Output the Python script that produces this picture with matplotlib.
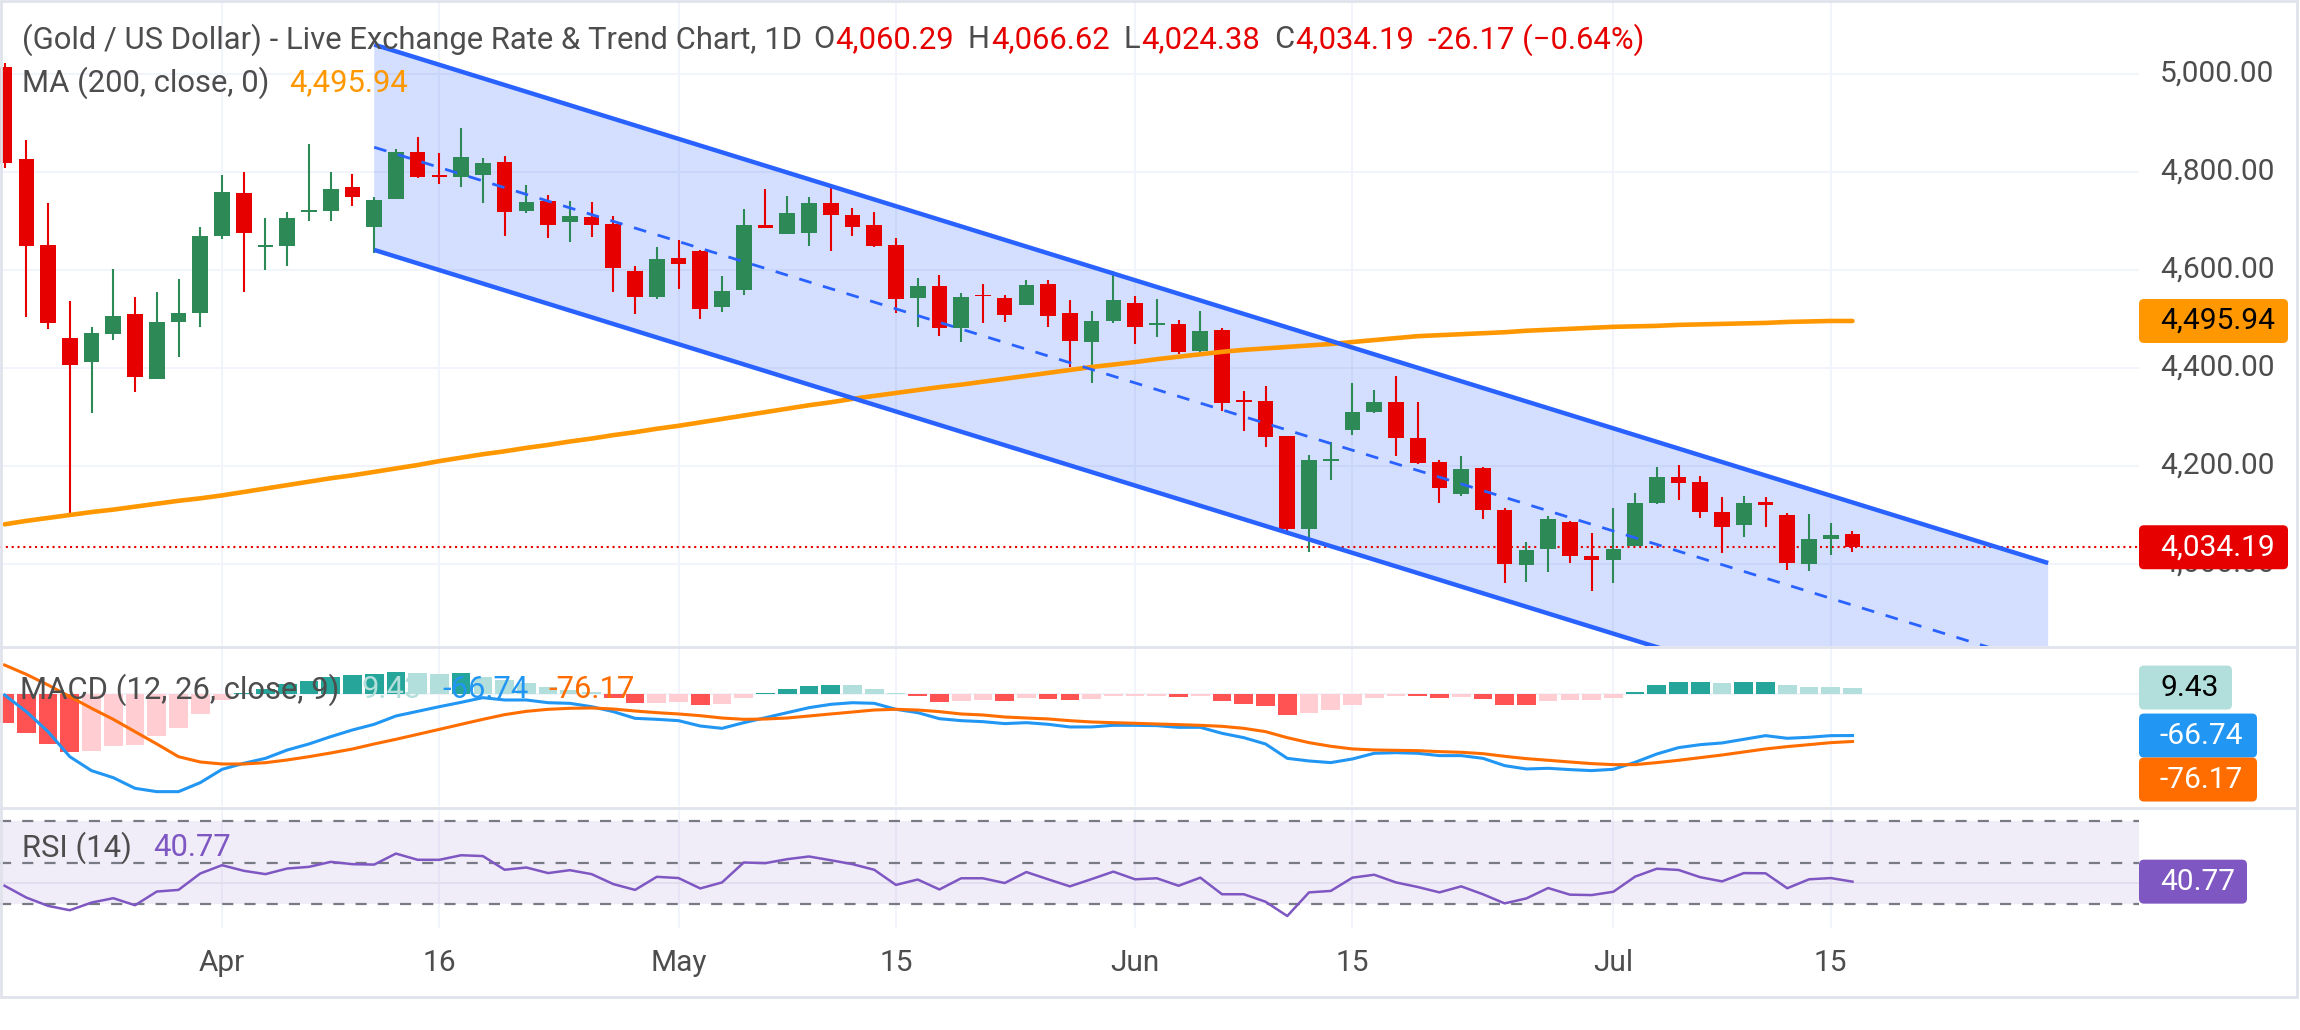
import matplotlib
matplotlib.use("Agg")
import matplotlib.pyplot as plt
from matplotlib.patches import Rectangle, FancyBboxPatch, Polygon
import numpy as np
import pandas as pd

plt.rcParams['font.family'] = ['Roboto', 'DejaVu Sans']

# ---------------- data ----------------
start_date, end_date = "2026-03-18", "2026-07-16"
market_holidays = ["2026-04-03"]

opens = [5015, 4826, 4651, 4462, 4413, 4470, 4511, 4377, 4493, 4513,
         4670, 4757, 4647, 4649, 4718, 4721, 4769, 4687, 4744, 4840,
         4792, 4790, 4793, 4821, 4721, 4740, 4698, 4709, 4694, 4598,
         4545, 4624, 4639, 4524, 4560, 4692, 4674, 4676, 4737, 4713,
         4692, 4651, 4542, 4567, 4481, 4548, 4543, 4529, 4572, 4513,
         4454, 4495, 4533, 4487, 4490, 4435, 4478, 4332, 4333, 4262,
         4071, 4211, 4273, 4310, 4331, 4258, 4209, 4142, 4195, 4111,
         3997, 4031, 4085, 4017, 4008, 4036, 4124, 4177, 4167, 4107,
         4079, 4126, 4101, 4000, 4052, 4060.29]
highs = [5022, 4866, 4737, 4537, 4484, 4602, 4545, 4555, 4582, 4687,
         4793, 4799, 4706, 4718, 4857, 4801, 4795, 4750, 4846, 4871,
         4839, 4889, 4828, 4833, 4773, 4754, 4740, 4739, 4710, 4609,
         4647, 4661, 4641, 4588, 4724, 4765, 4751, 4748, 4774, 4727,
         4718, 4665, 4584, 4590, 4553, 4572, 4548, 4580, 4580, 4539,
         4516, 4597, 4547, 4541, 4497, 4516, 4482, 4353, 4364, 4262,
         4222, 4248, 4370, 4356, 4383, 4331, 4213, 4221, 4198, 4115,
         4044, 4097, 4087, 4064, 4115, 4144, 4197, 4203, 4180, 4136,
         4138, 4136, 4105, 4103, 4083, 4066.62]
lows = [4809, 4504, 4479, 4100, 4308, 4458, 4351, 4377, 4422, 4484,
        4664, 4555, 4600, 4608, 4700, 4700, 4731, 4635, 4744, 4788,
        4775, 4769, 4737, 4670, 4716, 4666, 4657, 4668, 4555, 4511,
        4540, 4562, 4501, 4515, 4548, 4685, 4674, 4649, 4639, 4670,
        4646, 4513, 4483, 4466, 4453, 4491, 4493, 4529, 4484, 4402,
        4369, 4491, 4448, 4464, 4428, 4425, 4313, 4271, 4239, 4068,
        4024, 4171, 4263, 4308, 4220, 4204, 4124, 4139, 4092, 3962,
        3964, 3984, 4002, 3944, 3961, 4036, 4122, 4130, 4094, 4023,
        4055, 4076, 3988, 3985, 4018, 4024.38]
closes = [4819, 4649, 4491, 4407, 4471, 4506, 4381, 4494, 4513, 4669,
          4759, 4676, 4651, 4706, 4721, 4765, 4748, 4743, 4840, 4790,
          4789, 4830, 4819, 4719, 4738, 4692, 4710, 4692, 4605, 4544,
          4623, 4613, 4521, 4557, 4692, 4685, 4716, 4737, 4713, 4687,
          4649, 4540, 4567, 4481, 4545, 4546, 4509, 4569, 4507, 4456,
          4496, 4539, 4484, 4489, 4433, 4476, 4328, 4330, 4260, 4071,
          4213, 4215, 4311, 4331, 4257, 4207, 4155, 4193, 4110, 4000,
          4028, 4091, 4017, 4008, 4031, 4124, 4177, 4165, 4106, 4076,
          4124, 4121, 4002, 4052, 4060, 4034.19]
ma200 = [4081, 4088, 4094, 4100, 4106, 4111, 4117, 4123, 4129, 4134,
         4140, 4147, 4154, 4161, 4168, 4175, 4181, 4188, 4195, 4202,
         4210, 4217, 4224, 4230, 4237, 4243, 4250, 4256, 4263, 4269,
         4276, 4282, 4289, 4296, 4303, 4310, 4317, 4324, 4330, 4337,
         4343, 4349, 4355, 4361, 4366, 4372, 4378, 4384, 4390, 4396,
         4402, 4407, 4412, 4418, 4423, 4428, 4433, 4437, 4440, 4443,
         4446, 4449, 4453, 4457, 4461, 4465, 4467, 4469, 4471, 4473,
         4476, 4478, 4480, 4482, 4484, 4485, 4486, 4488, 4489, 4490,
         4491, 4492, 4494, 4495, 4496, 4495.94]
macd_line = [-2.4, -28.8, -60.6, -100.3, -122.5, -133.6, -150.5, -155.8, -155.8, -141.5,
             -120.4, -110.8, -102.9, -89.7, -80.1, -68.5, -57.9, -48.9, -35.7, -28.3,
             -20.9, -14.0, -6.6, -10.3, -10.3, -14.6, -15.6, -20.9, -28.8, -39.4,
             -41.0, -43.1, -51.6, -55.3, -46.3, -38.4, -30.4, -22.5, -17.2, -14.6,
             -15.6, -25.1, -30.4, -40.0, -43.1, -44.7, -47.8, -46.3, -48.9, -53.1,
             -53.1, -50.5, -50.5, -51.0, -53.7, -53.7, -63.2, -70.1, -80.1, -102.9,
             -107.1, -109.7, -103.9, -94.9, -93.9, -94.9, -98.6, -98.6, -102.9, -114.5,
             -119.8, -118.7, -120.8, -122.4, -120.3, -109.2, -96.0, -85.9, -81.2, -78.5,
             -72.7, -66.9, -71.1, -69.5, -66.9, -66.74]
signal_line = [45.2, 30.4, 13.5, -5.0, -23.5, -41.0, -60.6, -80.1, -100.3, -108.7,
               -111.9, -111.9, -109.8, -105.5, -100.3, -94.4, -88.1, -80.1, -72.7, -64.8,
               -56.9, -48.9, -41.0, -33.6, -28.3, -25.1, -23.5, -23.0, -24.6, -27.8,
               -30.4, -32.5, -35.2, -38.9, -41.0, -40.5, -38.9, -35.7, -32.5, -29.4,
               -26.2, -25.1, -26.2, -28.8, -32.5, -34.1, -37.3, -38.9, -40.4, -43.1,
               -45.2, -46.3, -47.3, -48.4, -49.4, -50.5, -52.1, -55.3, -60.5, -70.1,
               -78.0, -83.8, -88.0, -89.6, -90.2, -90.7, -92.3, -93.3, -95.5, -99.7,
               -103.4, -106.0, -108.7, -111.3, -112.9, -112.9, -109.7, -106.0, -101.8, -97.6,
               -92.8, -88.0, -84.3, -81.2, -78.0, -76.17]
macd_hist = [-46.6, -62.4, -80.4, -92.6, -91.5, -83.6, -82.0, -67.7, -55.0, -32.3,
             -10.6, 1.5, 7.0, 15.8, 20.2, 25.9, 29.0, 31.0, 33.5, 33.0,
             31.7, 32.0, 26.5, 21.0, 17.0, 10.6, 5.3, 2.6, -6.9, -14.8,
             -14.5, -14.0, -18.5, -15.9, -6.9, 1.0, 6.9, 12.2, 13.8, 13.5,
             7.9, 1.0, -4.2, -13.2, -12.2, -10.6, -12.2, -7.9, -8.2, -11.1,
             -9.5, -4.2, -4.1, -4.0, -5.8, -4.2, -12.2, -15.9, -20.1, -34.4,
             -31.7, -26.5, -17.5, -6.9, -4.2, -4.6, -7.9, -5.8, -9.5, -17.5,
             -18.0, -12.2, -11.1, -10.6, -7.9, 2.6, 12.7, 18.5, 18.8, 16.9,
             18.5, 18.6, 12.7, 11.1, 11.0, 9.43]
rsi14 = [38.8, 33.1, 29.1, 27.0, 30.7, 32.8, 29.4, 36.0, 36.8, 44.7,
         48.7, 46.0, 44.4, 47.1, 47.9, 50.3, 49.2, 49.0, 54.3, 51.3,
         51.3, 53.5, 53.1, 46.5, 47.6, 44.9, 46.3, 44.4, 39.6, 36.8,
         43.1, 42.5, 37.5, 40.4, 50.0, 49.7, 51.6, 52.9, 51.1, 49.2,
         46.5, 39.2, 41.8, 37.0, 42.4, 42.4, 40.1, 45.4, 41.9, 38.5,
         42.0, 45.6, 41.9, 42.4, 38.8, 42.7, 34.7, 34.7, 31.1, 24.2,
         35.6, 36.3, 42.7, 44.1, 40.4, 38.2, 35.6, 38.5, 34.7, 30.3,
         32.7, 37.7, 34.5, 34.3, 35.9, 43.2, 47.0, 46.4, 42.9, 40.9,
         44.9, 44.8, 37.6, 41.9, 42.5, 40.77]

tick_dates = ["2026-04-01", "2026-04-16", "2026-05-01", "2026-05-15",
              "2026-06-01", "2026-06-15", "2026-07-01", "2026-07-15"]
tick_labels = ["Apr", "16", "May", "15", "Jun", "15", "Jul", "15"]
price_ticks = [4000, 4200, 4400, 4600, 4800, 5000]
rsi_bands = [70, 50, 30]

channel_start = "2026-04-13"
channel_bars = 77
channel_upper = [5060, 4002]
channel_width = 419

header_title = "(Gold / US Dollar) - Live Exchange Rate & Trend Chart, 1D"
ohlc_labels = ["O", "H", "L", "C"]
change_text = "-26.17 (\u22120.64%)"
ma_title = "MA (200, close, 0)"
macd_title = "MACD (12, 26, close, 9)"
rsi_title = "RSI (14)"

# ---------------- style ----------------
RED = '#e60000'
GREEN = '#2d8a57'
GRAY = '#4d4d4d'
ORANGE = '#ff9800'
BLUE = '#2962ff'
MACD_BLUE = '#2196f3'
SIG_ORANGE = '#ff6d00'
PURPLE = '#7e57c2'
GRID = '#f0f3fa'
BORDER = '#e0e3eb'

dates = pd.bdate_range(start_date, end_date)
dates = dates[~dates.isin(pd.to_datetime(market_holidays))]
n = len(dates)
assert n == len(opens) == len(closes) == len(rsi14) == len(macd_hist)
x = np.arange(n)
tick_idx = [dates.get_loc(pd.Timestamp(d)) for d in tick_dates]

W, H = 2300, 1030
PLOT_R = 2139
BAR_PX, X0_PX = 21.74, 4.6
xlim = (-X0_PX / BAR_PX, (PLOT_R - X0_PX) / BAR_PX)

fig = plt.figure(figsize=(W / 100, H / 100), dpi=100)
fig.patch.set_facecolor('white')


def add_pane(top, bottom, ylim):
    ax = fig.add_axes([0, 1 - bottom / H, PLOT_R / W, (bottom - top) / H])
    ax.set_xlim(*xlim)
    ax.set_ylim(*ylim)
    for s in ax.spines.values():
        s.set_visible(False)
    ax.set_xticks([])
    ax.set_yticks([])
    ax.patch.set_alpha(0)
    for t in tick_idx:
        ax.axvline(t, color=GRID, lw=1.3, zorder=0)
    return ax


# main pane: price scale 0.49 px per unit, 4000 at y=564
def price_at(ypx):
    return 4000 + (564 - ypx) / 0.49


ax = add_pane(2, 646, (price_at(646), price_at(2)))
for p in price_ticks:
    ax.axhline(p, color=GRID, lw=1.3, zorder=0)

o, h, l, c = map(np.array, (opens, highs, lows, closes))
cols = np.where(c >= o, GREEN, RED)

# channel
ci0 = dates.get_loc(pd.Timestamp(channel_start))
ci1 = ci0 + channel_bars
u0, u1 = channel_upper
ax.add_patch(Polygon([(ci0, u0), (ci1, u1), (ci1, u1 - channel_width), (ci0, u0 - channel_width)],
                     closed=True, fc=BLUE, alpha=0.2, ec='none', zorder=1))

ax.axhline(closes[-1], color=RED, lw=1.5, ls=(0, (1, 1.8)), zorder=2)

ax.vlines(x, l, h, colors=cols, lw=1.5, zorder=3)
body_lo = np.minimum(o, c)
body_h = np.maximum(np.abs(c - o), 4.0)
ax.bar(x, body_h, bottom=body_lo, width=0.72, color=cols, lw=0, zorder=4)

ax.plot(x, ma200, color=ORANGE, lw=3.3, zorder=5, solid_capstyle='round')

ax.plot([ci0, ci1], [u0, u1], color=BLUE, lw=3.2, zorder=6, solid_capstyle='butt')
ax.plot([ci0, ci1], [u0 - channel_width, u1 - channel_width], color=BLUE, lw=3.2, zorder=6,
        solid_capstyle='butt')
ax.plot([ci0, ci1], [u0 - channel_width / 2, u1 - channel_width / 2], color=BLUE, lw=2.0,
        ls=(0, (4.6, 4.3)), zorder=6)

# MACD pane: 0 at y=693.5, 0.63 px per unit
axm = add_pane(648, 806, (-(806 - 693.5) / 0.63, -(648 - 693.5) / 0.63))
axm.axhline(0, color=GRID, lw=1.3, zorder=0)
hcols = []
for i, v in enumerate(macd_hist):
    prev = macd_hist[i - 1] if i > 0 else v
    if v >= 0:
        hcols.append('#26a69a' if prev < v else '#b2dfdb')
    else:
        hcols.append('#ffcdd2' if prev < v else '#ff5252')
axm.bar(x, macd_hist, width=0.86, color=hcols, lw=0, zorder=2)
axm.plot(x, macd_line, color=MACD_BLUE, lw=2.2, zorder=3)
axm.plot(x, signal_line, color=SIG_ORANGE, lw=2.2, zorder=3)

# RSI pane: 50 at y=862.5, 2.075 px per unit
axr = add_pane(809, 928, (50 - (928 - 862.5) / 2.075, 50 - (809 - 862.5) / 2.075))
axr.axhspan(30, 70, color=PURPLE, alpha=0.1, lw=0, zorder=0)
axr.axhline(40, color='#e2ddef', lw=1.3, zorder=0.5)
for lvl in rsi_bands:
    axr.axhline(lvl, color='#787b86', lw=1.6, ls=(0, (5.0, 5.0)), zorder=1)
axr.plot(x, rsi14, color=PURPLE, lw=1.8, zorder=3)

# ---------------- overlay in pixel coordinates ----------------
ov = fig.add_axes([0, 0, 1, 1], zorder=10)
ov.set_xlim(0, W)
ov.set_ylim(H, 0)
ov.axis('off')

ov.add_patch(Rectangle((1, 1), 2296, 996, fill=False, ec=BORDER, lw=2))
ov.plot([0, 2297], [647, 647], color=BORDER, lw=2)
ov.plot([0, 2297], [807.5, 807.5], color=BORDER, lw=2)

renderer = fig.canvas.get_renderer()


def width_of(s, size):
    t = ov.text(0, 0, s, fontsize=size)
    w = t.get_window_extent(renderer).width
    t.remove()
    return w


leg_size = 10 * 778 / width_of(header_title, 10)
lab_size = 10 * 114 / width_of("5,000.00", 10)


def segments(x0, y0, segs, size):
    xx = x0
    for s, colr, gap in segs:
        t = ov.text(xx, y0, s, fontsize=size, color=colr, va='center', ha='left')
        xx += t.get_window_extent(renderer).width + gap


def fmt(v):
    return f"{v:,.2f}"


line1 = [(header_title, GRAY, 11)]
for lab, val in zip(ohlc_labels, [opens[-1], highs[-1], lows[-1], closes[-1]]):
    line1 += [(lab, GRAY, 1), (fmt(val), RED, 14)]
line1 += [(change_text, RED, 0)]
segments(22, 40, line1, leg_size)
segments(22, 83, [(ma_title, GRAY, 20), (fmt(ma200[-1]), ORANGE, 0)], leg_size)
segments(20, 690, [(macd_title, GRAY, 22), (f"{macd_hist[-1]:.2f}", '#b2dfdb', 21),
                   (f"{macd_line[-1]:.2f}", MACD_BLUE, 19), (f"{signal_line[-1]:.2f}", SIG_ORANGE, 0)],
         leg_size)
segments(22, 848, [(rsi_title, GRAY, 21), (f"{rsi14[-1]:.2f}", PURPLE, 0)], leg_size)


def py(a, v):
    return H - a.transData.transform((0, v))[1]


for p in price_ticks:
    ov.text(2160, py(ax, p), fmt(p), fontsize=lab_size, color=GRAY, va='center', ha='left', zorder=1)

for t, lab in zip(tick_idx, tick_labels):
    xp = ax.transData.transform((t, 0))[0]
    ov.text(xp, 963, lab, fontsize=lab_size, color=GRAY, va='center', ha='center')


def label_box(yc, text, fc, tc, right):
    ov.add_patch(FancyBboxPatch((2139, yc - 22), right - 2139, 44,
                                boxstyle='round,pad=0,rounding_size=5', fc=fc, ec='none', zorder=3))
    ov.text(2160, yc, text, fontsize=lab_size, color=tc, va='center', ha='left', zorder=4)


label_box(py(ax, ma200[-1]), fmt(ma200[-1]), ORANGE, 'black', 2288)
label_box(py(ax, closes[-1]), fmt(closes[-1]), RED, 'white', 2288)

prev_bottom = -1e9
for val, fc, tc, right in [(macd_hist[-1], '#b2dfdb', 'black', 2232),
                           (macd_line[-1], MACD_BLUE, 'white', 2257),
                           (signal_line[-1], SIG_ORANGE, 'white', 2257)]:
    yc = max(py(axm, val), prev_bottom + 22)
    label_box(yc, f"{val:.2f}", fc, tc, right)
    prev_bottom = yc + 22

label_box(py(axr, rsi14[-1]), f"{rsi14[-1]:.2f}", PURPLE, 'white', 2247)

fig.savefig("out.png", dpi=100, facecolor='white')
